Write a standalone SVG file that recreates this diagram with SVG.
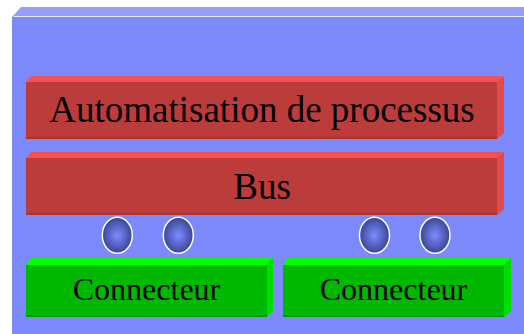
<svg xmlns="http://www.w3.org/2000/svg" width="524" height="334" viewBox="0 0 524 334">
<defs>
<radialGradient id="ball" cx="50%" cy="50%" r="50%">
<stop offset="0" stop-color="#7C8CFF"/>
<stop offset="1" stop-color="#3A4596"/>
</radialGradient>
<style>
.rtop{fill:#F65050}.rfront{fill:#BC3B3B}.rside{fill:#E04A4A}.rbot{fill:#A53535}
.gtop{fill:#00FF00}.gfront{fill:#00B800}.gside{fill:#00DD00}.gbot{fill:#009A00}
.t{font-family:"Liberation Serif","Times New Roman",serif;fill:#000;text-anchor:middle}
.ball{fill:url(#ball);stroke:#FFFFFF;stroke-width:1.5}
</style>
</defs>
<rect width="524" height="334" fill="#FFFFFF"/>
<g id="panel">
<polygon points="12,17 21,7 524,7 524,17" fill="#959FFB"/>
<rect x="12" y="17" width="512" height="317" fill="#7B89FB"/>
<line x1="14" y1="16.5" x2="524" y2="16.5" stroke="#E8ECFF" stroke-width="1"/>
</g>
<g id="automatisation">
<polygon class="rtop" points="26,82 31,76 504,76 497,82"/>
<polygon class="rside" points="497,82 504,76 504,133 497,139"/>
<rect class="rfront" x="26" y="82" width="471" height="57"/>
<rect class="rbot" x="26" y="137" width="471" height="2"/>
<text class="t" x="262" y="122" font-size="37">Automatisation de processus</text>
</g>
<g id="bus">
<polygon class="rtop" points="26,158 31,152 504,152 497,158"/>
<polygon class="rside" points="497,158 504,152 504,209 497,215"/>
<rect class="rfront" x="26" y="158" width="471" height="57"/>
<rect class="rbot" x="26" y="213" width="471" height="2"/>
<text class="t" x="262" y="199" font-size="37">Bus</text>
</g>
<g id="connectors">
<ellipse class="ball" cx="117.3" cy="235.3" rx="15" ry="18"/>
<ellipse class="ball" cx="178.3" cy="235.3" rx="15" ry="18"/>
<ellipse class="ball" cx="374.5" cy="235.3" rx="15" ry="18"/>
<ellipse class="ball" cx="435" cy="235.3" rx="15" ry="18"/>
</g>
<g id="connecteur1">
<polygon class="gtop" points="26,265 31,258 273,258 267,265"/>
<polygon class="gside" points="267,265 273,258 273,311 267,317"/>
<rect class="gfront" x="26" y="265" width="241" height="52"/>
<rect class="gbot" x="26" y="315" width="241" height="2"/>
<text class="t" x="146.5" y="300" font-size="32">Connecteur</text>
</g>
<g id="connecteur2">
<polygon class="gtop" points="283,265 288,258 511,258 504,265"/>
<polygon class="gside" points="504,265 511,258 511,311 504,317"/>
<rect class="gfront" x="283" y="265" width="221" height="52"/>
<rect class="gbot" x="283" y="315" width="221" height="2"/>
<text class="t" x="393.5" y="300" font-size="32">Connecteur</text>
</g>
</svg>
